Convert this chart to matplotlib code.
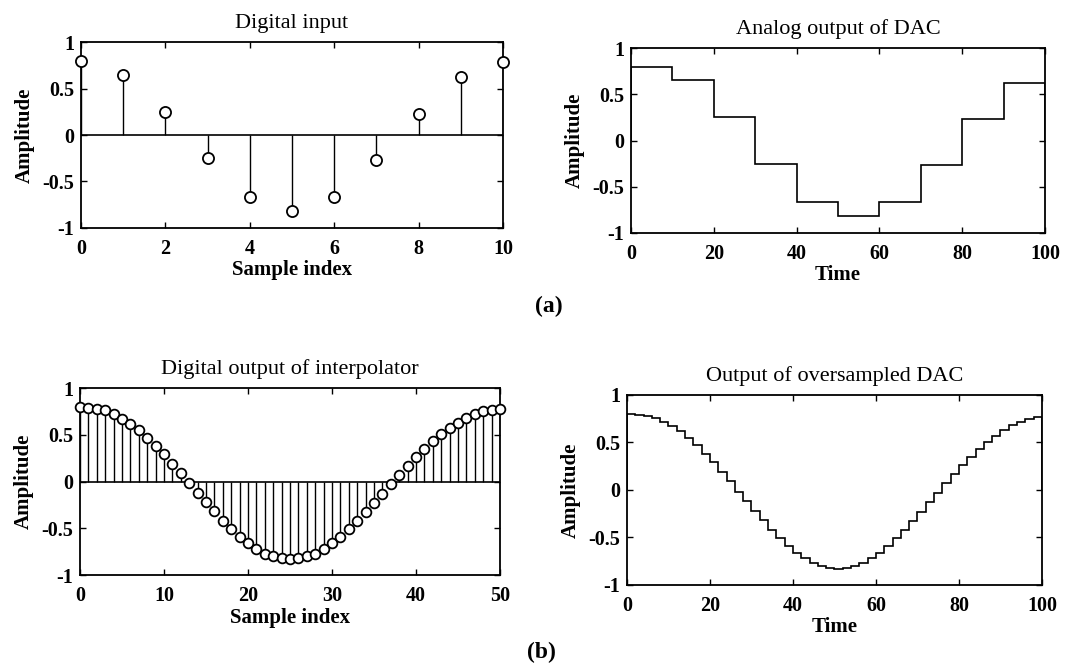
import numpy as np
import matplotlib
matplotlib.use("Agg")
import matplotlib.pyplot as plt

plt.rcParams['font.family'] = ['Liberation Serif', 'DejaVu Serif']

# Samples of the digital input sequence
input_index = list(range(11))
input_values = [0.80, 0.65, 0.25, -0.25, -0.67, -0.82, -0.67, -0.27, 0.23, 0.62, 0.78]

# Interpolated (oversampled by 5) sequence
interp_index = list(range(51))
interp_values = [0.80, 0.79, 0.78, 0.76, 0.72, 0.67, 0.62, 0.55, 0.47, 0.38,
                 0.29, 0.19, 0.09, -0.02, -0.12, -0.22, -0.32, -0.42, -0.51, -0.59,
                 -0.66, -0.72, -0.77, -0.80, -0.82, -0.83, -0.82, -0.80, -0.77, -0.72,
                 -0.66, -0.59, -0.51, -0.42, -0.33, -0.23, -0.13, -0.03, 0.07, 0.17,
                 0.26, 0.35, 0.43, 0.51, 0.57, 0.63, 0.68, 0.72, 0.75, 0.77, 0.78]

# Hold duration of each sample on the time axis
dac_period = 10
oversampled_period = 2

y_ticks = [-1, -0.5, 0, 0.5, 1]
y_tick_labels = ['-1', '-0.5', '0', '0.5', '1']

fig = plt.figure(figsize=(10.83, 6.68), dpi=100)

tick_font = dict(fontsize=14.5, fontweight='bold')
label_font = dict(fontsize=15, fontweight='bold')
title_font = dict(fontsize=16)


def style(ax, xticks, xlim):
    ax.set_xlim(*xlim)
    ax.set_ylim(-1, 1)
    ax.set_xticks(xticks)
    ax.set_xticklabels([str(t) for t in xticks], **tick_font)
    ax.set_yticks(y_ticks)
    ax.set_yticklabels(y_tick_labels, **tick_font)
    ax.tick_params(direction='in', top=True, right=True, length=4, width=1)
    ax.tick_params(axis='x', pad=8)
    ax.tick_params(axis='y', pad=5)
    for s in ax.spines.values():
        s.set_linewidth(1.3)


def stem_plot(ax, n, x, ms):
    markerline, stemlines, baseline = ax.stem(n, x, linefmt='k-', markerfmt='ko',
                                              basefmt='k-')
    markerline.set_markerfacecolor('white')
    markerline.set_markeredgecolor('black')
    markerline.set_markersize(ms)
    markerline.set_markeredgewidth(1.3)
    markerline.set_clip_on(False)
    markerline.set_zorder(4)
    stemlines.set_linewidth(1.0)
    baseline.set_linewidth(1.2)


def labels(ax, title, xlabel):
    ax.set_title(title, pad=10, **title_font)
    ax.set_xlabel(xlabel, labelpad=1, **label_font)
    ax.set_ylabel('Amplitude', labelpad=5, **label_font)


# (a) digital input
ax1 = fig.add_axes([0.0748, 0.6587, 0.3897, 0.2784])
stem_plot(ax1, input_index, input_values, 8)
style(ax1, [0, 2, 4, 6, 8, 10], (0, 10))
labels(ax1, 'Digital input', 'Sample index')

# (a) analog output of DAC (zero-order hold)
ax2 = fig.add_axes([0.5826, 0.6512, 0.3823, 0.2769])
n_hold = len(input_values) - 1
edges = [dac_period * k for k in range(n_hold + 1)]
ax2.stairs(input_values[:n_hold], edges, color='black', linewidth=1.2)
style(ax2, [0, 20, 40, 60, 80, 100], (0, 100))
labels(ax2, 'Analog output of DAC', 'Time')

# (b) digital output of interpolator
ax3 = fig.add_axes([0.0739, 0.1392, 0.3878, 0.2799])
stem_plot(ax3, interp_index, interp_values, 7)
style(ax3, [0, 10, 20, 30, 40, 50], (0, 50))
labels(ax3, 'Digital output of interpolator', 'Sample index')

# (b) output of oversampled DAC
ax4 = fig.add_axes([0.5789, 0.1243, 0.3832, 0.2844])
n_hold2 = len(interp_values) - 1
edges2 = [oversampled_period * k for k in range(n_hold2 + 1)]
ax4.stairs(interp_values[:n_hold2], edges2, color='black', linewidth=1.2)
style(ax4, [0, 20, 40, 60, 80, 100], (0, 100))
labels(ax4, 'Output of oversampled DAC', 'Time')

fig.text(549 / 1083, 1 - 306 / 668, '(a)', ha='center', va='center',
         fontsize=17, fontweight='bold')
fig.text(541 / 1083, 1 - 652 / 668, '(b)', ha='center', va='center',
         fontsize=17, fontweight='bold')

fig.savefig('out.png', dpi=100)
